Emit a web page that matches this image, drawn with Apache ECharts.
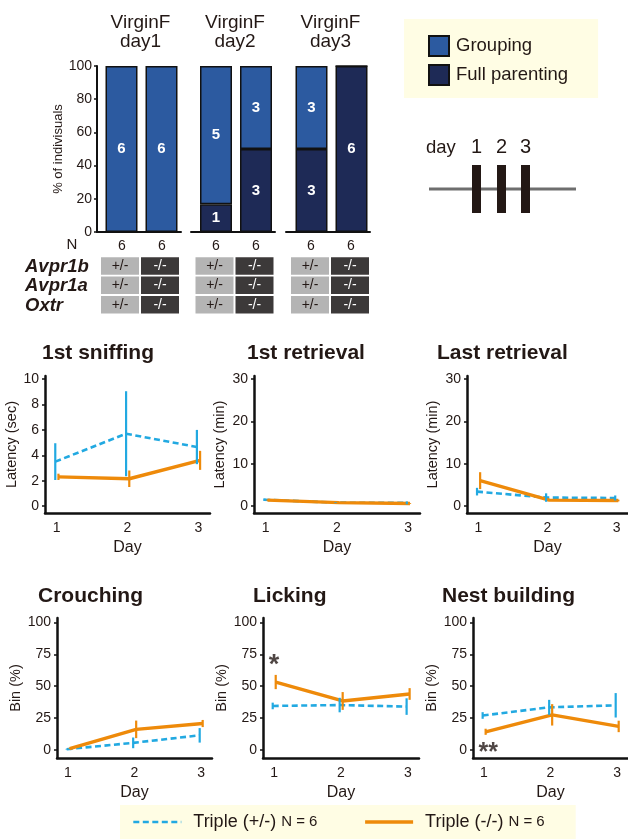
<!DOCTYPE html>
<html>
<head>
<meta charset="utf-8">
<script src="https://cdn.jsdelivr.net/npm/echarts@6/dist/echarts.min.js"></script>
<style>
  html, body { margin: 0; padding: 0; background: #fff; }
  #chart { width: 628px; height: 840px; }
</style>
</head>
<body>
<div id="chart"></div>
<script>
// ---- Parenting-type composition (top) ----
const dayGroups = ['VirginF\nday1', 'VirginF\nday2', 'VirginF\nday3'];
const genotypes = ['+/-', '-/-'];
const groupN = [[6, 6], [6, 6], [6, 6]];
const groupingCount = [[6, 6], [5, 3], [3, 0]];
const fullParentingCount = [[0, 0], [1, 3], [3, 6]];
const pctTicks = [0, 20, 40, 60, 80, 100];
const genes = ['Avpr1b', 'Avpr1a', 'Oxtr'];
const scheduleDays = ['1', '2', '3'];

// ---- Behaviour time courses (mean and error) ----
const days = [1, 2, 3];
const latencySecTicks = [0, 2, 4, 6, 8, 10];
const latencyMinTicks = [0, 10, 20, 30];
const binTicks = [0, 25, 50, 75, 100];

const sniffHetMean = [3.5, 5.7, 4.65];
const sniffHetErr = [1.45, 3.35, 1.35];
const sniffKoMean = [2.3, 2.15, 3.6];
const sniffKoErr = [0.25, 0.65, 0.75];

const firstRetHetMean = [1.5, 0.8, 0.75];
const firstRetHetErr = [0.3, 0.1, 0.35];
const firstRetKoMean = [1.4, 0.8, 0.6];
const firstRetKoErr = [0.15, 0.1, 0.1];

const lastRetHetMean = [3.4, 2.0, 1.9];
const lastRetHetErr = [0.9, 1.0, 0.6];
const lastRetKoMean = [6.0, 1.4, 1.3];
const lastRetKoErr = [2.0, 0.2, 0.2];

const crouchHetMean = [0.5, 5.5, 11.4];
const crouchHetErr = [0.3, 4.2, 5.7];
const crouchKoMean = [1.0, 16.1, 20.7];
const crouchKoErr = [0.3, 6.9, 2.8];

const lickHetMean = [34.5, 35.2, 34.0];
const lickHetErr = [2.6, 5.7, 6.5];
const lickKoMean = [53.3, 38.4, 43.9];
const lickKoErr = [5.6, 7.0, 4.6];

const nestHetMean = [27.0, 33.4, 35.0];
const nestHetErr = [2.6, 5.9, 9.6];
const nestKoMean = [14.2, 27.5, 18.4];
const nestKoErr = [2.4, 8.4, 4.5];

// significance marks: [day, y, text]
const lickSig = [1, 66, '*'];
const nestSig = [1.064, -2.3, '**'];

const hetName = 'Triple (+/-)';
const koName = 'Triple (-/-)';
const legendN = 6;

// ---- Styling ----
const FONT = '"Liberation Sans", Arial, Helvetica, sans-serif';
const INK = '#231815';
const AXIS = '#111111';
const C_GROUP = '#2C5AA0';
const C_FULL = '#1E2A56';
const C_HET = '#22A9E1';
const C_KO = '#EE8A0A';
const PANEL_BG = '#FFFDE4';

const chart = echarts.init(document.getElementById('chart'), null, { renderer: 'canvas' });

const grid = [], xAxis = [], yAxis = [], series = [];

// Frames (axis lines, N row, % axis) for each day: grids 0..2
const frameLefts = [97, 191, 286];
for (let g = 0; g < 3; g++) {
  grid.push({ left: frameLefts[g], top: 66, width: 84, height: 166 });
  xAxis.push({
    gridIndex: g, type: 'value', min: 0.375, max: 2.475,
    axisLine: { show: true, onZero: false, lineStyle: { color: AXIS, width: 2 } },
    axisTick: { show: false }, splitLine: { show: false },
    axisLabel: {
      customValues: [1, 2], margin: 7, fontSize: 14, color: INK, fontFamily: FONT,
      formatter: v => String(groupN[g][Math.round(v) - 1])
    }
  });
  yAxis.push({
    gridIndex: g, type: 'value', min: 0, max: 100, interval: 20, show: g === 0,
    name: '% of indivisuals', nameLocation: 'middle', nameGap: 27,
    nameTextStyle: { fontSize: 13, color: INK, fontFamily: FONT },
    axisLine: { show: true, onZero: false, lineStyle: { color: AXIS, width: 2 } },
    axisTick: { show: true, length: 3, lineStyle: { color: AXIS, width: 1.5 } },
    splitLine: { show: false },
    axisLabel: { fontSize: 14, color: INK, fontFamily: FONT, margin: 5 }
  });
}

// Stacked composition bars for each day: grids 3..5
const barLefts = [101.5, 196, 291.5];
for (let g = 0; g < 3; g++) {
  const gi = 3 + g;
  grid.push({ left: barLefts[g], top: 66, width: 80, height: 166 });
  xAxis.push({ gridIndex: gi, type: 'category', data: genotypes, show: false, boundaryGap: true });
  yAxis.push({ gridIndex: gi, type: 'value', min: 0, max: 100, show: false });
  const mk = (counts, name, color) => ({
    type: 'bar', name, xAxisIndex: gi, yAxisIndex: gi, stack: 'day' + g, barWidth: 32,
    itemStyle: { color, borderColor: '#111', borderWidth: 1.5 },
    label: {
      show: true, position: 'inside', color: '#fff', fontWeight: 'bold', fontSize: 15, fontFamily: FONT,
      formatter: p => (p.data.count > 0 ? String(p.data.count) : '')
    },
    data: counts[g].map((c, i) => ({ value: c / groupN[g][i] * 100, count: c }))
  });
  series.push(mk(fullParentingCount, 'Full parenting', C_FULL));
  series.push(mk(groupingCount, 'Grouping', C_GROUP));
}

// Time-course panels: grids 6..11
const panelDefs = [
  { title: '1st sniffing', tx: 42, ty: 353, yName: 'Latency (sec)', ticks: latencySecTicks, ymin: -0.55, ymax: 10.25,
    box: { left: 45, top: 376, width: 165, height: 137 }, gap: 21,
    het: [sniffHetMean, sniffHetErr], ko: [sniffKoMean, sniffKoErr] },
  { title: '1st retrieval', tx: 247, ty: 353, yName: 'Latency (min)', ticks: latencyMinTicks, ymin: -1.65, ymax: 30.75,
    box: { left: 254, top: 376, width: 166, height: 137 }, gap: 27,
    het: [firstRetHetMean, firstRetHetErr], ko: [firstRetKoMean, firstRetKoErr] },
  { title: 'Last retrieval', tx: 437, ty: 353, yName: 'Latency (min)', ticks: latencyMinTicks, ymin: -1.65, ymax: 30.75,
    box: { left: 467, top: 376, width: 166, height: 137 }, gap: 27,
    het: [lastRetHetMean, lastRetHetErr], ko: [lastRetKoMean, lastRetKoErr] },
  { title: 'Crouching', tx: 38, ty: 596, yName: 'Bin (%)', ticks: binTicks, ymin: -6.4, ymax: 103.6,
    box: { left: 57, top: 618, width: 155, height: 140 }, gap: 29,
    het: [crouchHetMean, crouchHetErr], ko: [crouchKoMean, crouchKoErr] },
  { title: 'Licking', tx: 253, ty: 596, yName: 'Bin (%)', ticks: binTicks, ymin: -6.4, ymax: 103.6,
    box: { left: 263, top: 618, width: 156, height: 140 }, gap: 28,
    het: [lickHetMean, lickHetErr], ko: [lickKoMean, lickKoErr], sig: lickSig, sigSize: 27 },
  { title: 'Nest building', tx: 442, ty: 596, yName: 'Bin (%)', ticks: binTicks, ymin: -6.4, ymax: 103.6,
    box: { left: 473, top: 618, width: 155, height: 140 }, gap: 28,
    het: [nestHetMean, nestHetErr], ko: [nestKoMean, nestKoErr], sig: nestSig, sigSize: 25 }
];

function errorBars(gi, xs, mean, err, color, dodge) {
  return {
    type: 'custom', xAxisIndex: gi, yAxisIndex: gi, z: 4, clip: false,
    encode: { x: 0, y: [1, 2] },
    data: xs.map((d, i) => [d + dodge, mean[i] - err[i], mean[i] + err[i]]),
    renderItem: (params, api) => {
      const a = api.coord([api.value(0), api.value(1)]);
      const b = api.coord([api.value(0), api.value(2)]);
      return {
        type: 'line',
        shape: { x1: a[0], y1: a[1], x2: b[0], y2: b[1] },
        style: { stroke: color, lineWidth: 2.2 }
      };
    }
  };
}

panelDefs.forEach((p, k) => {
  const gi = 6 + k;
  grid.push(p.box);
  xAxis.push({
    gridIndex: gi, type: 'value', min: 0.835, max: 3.165,
    name: 'Day', nameLocation: 'middle', nameGap: 27,
    nameTextStyle: { fontSize: 16, color: INK, fontFamily: FONT },
    axisLine: { show: true, onZero: false, lineStyle: { color: AXIS, width: 2.5 } },
    axisTick: { show: false }, splitLine: { show: false },
    axisLabel: { customValues: days, fontSize: 14, color: INK, fontFamily: FONT, margin: 8 }
  });
  yAxis.push({
    gridIndex: gi, type: 'value', min: p.ymin, max: p.ymax,
    name: p.yName, nameLocation: 'middle', nameGap: p.gap,
    nameTextStyle: { fontSize: 14.5, color: INK, fontFamily: FONT },
    axisLine: { show: true, onZero: false, lineStyle: { color: AXIS, width: 2.5 } },
    axisTick: { show: true, customValues: p.ticks, length: 3, lineStyle: { color: AXIS, width: 1.5 } },
    splitLine: { show: false },
    axisLabel: { customValues: p.ticks, fontSize: 14, color: INK, fontFamily: FONT, margin: 6 }
  });
  series.push({
    type: 'line', name: hetName, xAxisIndex: gi, yAxisIndex: gi, z: 2,
    symbol: 'none', color: C_HET,
    lineStyle: { color: C_HET, width: 2.6, type: [6, 3.5] },
    data: days.map((d, i) => [d - 0.02, p.het[0][i]])
  });
  series.push(errorBars(gi, days, p.het[0], p.het[1], C_HET, -0.02));
  series.push({
    type: 'line', name: koName, xAxisIndex: gi, yAxisIndex: gi, z: 3,
    symbol: 'none', color: C_KO,
    lineStyle: { color: C_KO, width: 3.4 },
    data: days.map((d, i) => [d + 0.025, p.ko[0][i]])
  });
  series.push(errorBars(gi, days, p.ko[0], p.ko[1], C_KO, 0.025));
  if (p.sig) {
    series.push({
      type: 'scatter', xAxisIndex: gi, yAxisIndex: gi, symbolSize: 0.1, z: 5,
      itemStyle: { color: 'rgba(0,0,0,0)' }, silent: true,
      label: { show: true, position: 'inside', formatter: p.sig[2], fontSize: p.sigSize,
               fontWeight: 'bold', color: INK, fontFamily: FONT },
      data: [[p.sig[0], p.sig[1]]]
    });
  }
});

const option = {
  animation: false,
  backgroundColor: '#ffffff',
  textStyle: { fontFamily: FONT },
  grid, xAxis, yAxis, series,
  legend: [
    {
      data: ['Grouping', 'Full parenting'],
      orient: 'vertical', left: 404, top: 19,
      padding: [16, 30, 12, 24], itemWidth: 20, itemHeight: 20, itemGap: 7,
      icon: 'rect', backgroundColor: PANEL_BG, selectedMode: false,
      textStyle: { fontSize: 18.5, color: INK, fontFamily: FONT, padding: [0, 0, 0, 2] }
    },
    {
      data: [hetName, koName],
      orient: 'horizontal', left: 120, top: 805,
      padding: [7, 31, 7, 12], itemWidth: 48, itemHeight: 3, itemGap: 46,
      backgroundColor: PANEL_BG, selectedMode: false,
      itemStyle: { opacity: 0 },
      lineStyle: { width: 'inherit', type: 'inherit' },
      formatter: name => name + ' {n|N = ' + legendN + '}',
      textStyle: {
        fontSize: 18, color: INK, fontFamily: FONT, padding: [0, 0, 0, 7], lineHeight: 20,
        rich: { n: { fontSize: 15, color: INK, fontFamily: FONT } }
      }
    }
  ]
};
chart.setOption(option);

// ---- Text, genotype table and schedule drawn around the axes ----
const gfx = [];
const txt = (text, x, y, font, align) => gfx.push({
  type: 'text', x, y, silent: true,
  style: { text, font, fill: INK, align: align || 'left', verticalAlign: 'middle' }
});

// day headers and genotype cells, centred on the bars
const cellW = 38, cellH = 17.5, rowTop = 257.3, rowPitch = 19.3;
for (let g = 0; g < 3; g++) {
  const cx = genotypes.map(gt => chart.convertToPixel({ xAxisIndex: 3 + g }, gt));
  const mid = (cx[0] + cx[1]) / 2 - 1;
  gfx.push({
    type: 'text', x: mid, y: 13, silent: true,
    style: { text: dayGroups[g], font: '19px ' + FONT, fill: INK, align: 'center', verticalAlign: 'top', lineHeight: 19.5 }
  });
  genotypes.forEach((gt, i) => {
    const dark = i === 1;
    genes.forEach((gene, r) => {
      const top = rowTop + r * rowPitch;
      gfx.push({
        type: 'rect', silent: true,
        shape: { x: cx[i] - 1.5 - cellW / 2, y: top, width: cellW, height: cellH },
        style: { fill: dark ? '#3C3939' : '#B4B4B4' }
      });
      gfx.push({
        type: 'text', x: cx[i] - 1.5, y: top + cellH / 2, silent: true,
        style: { text: gt, font: '14px ' + FONT, fill: dark ? '#ffffff' : INK, align: 'center', verticalAlign: 'middle' }
      });
    });
  });
}
txt('N', 72, 245, '15px ' + FONT, 'center');
genes.forEach((gene, r) => {
  txt(gene, 25, rowTop + r * rowPitch + cellH / 2 + 1, 'italic bold 18.5px ' + FONT, 'left');
});

// panel titles
panelDefs.forEach(p => txt(p.title, p.tx, p.ty, 'bold 21px ' + FONT, 'left'));

// schedule sketch
gfx.push({ type: 'line', silent: true, shape: { x1: 429, y1: 189, x2: 576, y2: 189 },
           style: { stroke: '#6E6E6E', lineWidth: 3 } });
const schedX = [476.5, 501.5, 525.5];
schedX.forEach((x, i) => {
  gfx.push({ type: 'rect', silent: true, shape: { x: x - 4.5, y: 165, width: 9, height: 48 },
             style: { fill: '#231815' } });
  txt(scheduleDays[i], x, 147, '20px ' + FONT, 'center');
});
txt('day', 426, 148, '18.5px ' + FONT, 'left');

chart.setOption({ graphic: { elements: gfx } });
</script>
</body>
</html>
